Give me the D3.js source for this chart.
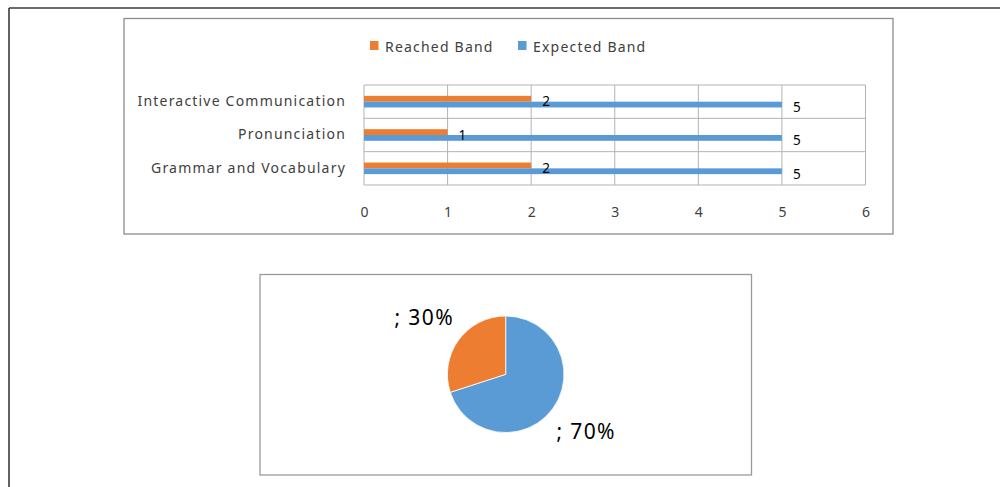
<!DOCTYPE html>
<html>
<head>
<meta charset="utf-8">
<script src="https://cdn.jsdelivr.net/npm/d3@7"></script>
<style>
  html, body { margin: 0; padding: 0; background: #fff; }
  svg { display: block; }
</style>
</head>
<body>
<svg id="chart" width="1000" height="487"></svg>
<script>
// Band scores per skill (top row first)
const categories = ["Interactive Communication", "Pronunciation", "Grammar and Vocabulary"];
const reachedBand = [2, 1, 2];
const expectedBand = [5, 5, 5];
const seriesNames = ["Reached Band", "Expected Band"];
const xTicks = [0, 1, 2, 3, 4, 5, 6];

// Share of the total (pie), drawn clockwise from 12 o'clock
const pieValues = [70, 30];
const pieLabels = ["; 70%", "; 30%"];

const ORANGE = "#ED7D31";
const BLUE = "#5B9BD5";
const TEXT = "#404040";
const FONT = "'Noto Sans', 'Open Sans', sans-serif";

const svg = d3.select("#chart");

// Page frame
svg.append("line").attr("x1", 9).attr("x2", 1000).attr("y1", 8).attr("y2", 8)
  .attr("stroke", "#3a3a3a").attr("stroke-width", 1.6);
svg.append("line").attr("x1", 9).attr("x2", 9).attr("y1", 8).attr("y2", 487)
  .attr("stroke", "#3a3a3a").attr("stroke-width", 1.6);

// ---------- Bar chart ----------
svg.append("rect").attr("x", 124).attr("y", 18.5).attr("width", 769).attr("height", 215.5)
  .attr("fill", "#fff").attr("stroke", "#8c8c8c").attr("stroke-width", 1.3);

const plot = { left: 364, right: 865.5, top: 85, bottom: 185 };

const x = d3.scaleLinear().domain([0, 6]).range([plot.left, plot.right]);
const y = d3.scaleBand().domain(categories).range([plot.top, plot.bottom]).padding(0);
const ySub = d3.scaleBand().domain(seriesNames).range([0, y.bandwidth()])
  .paddingInner(0).paddingOuter(1.87);

const grid = svg.append("g").attr("stroke", "#b3b3b3").attr("stroke-width", 1);
// vertical gridlines
grid.selectAll("line.v").data(xTicks).join("line")
  .attr("x1", d => x(d)).attr("x2", d => x(d))
  .attr("y1", plot.top).attr("y2", plot.bottom);
// row boundaries
const rowEdges = categories.map(c => y(c)).concat([plot.bottom]);
grid.selectAll("line.h").data(rowEdges).join("line")
  .attr("x1", plot.left).attr("x2", plot.right)
  .attr("y1", d => d).attr("y2", d => d);

// bars
const series = [
  { name: seriesNames[0], values: reachedBand, color: ORANGE },
  { name: seriesNames[1], values: expectedBand, color: BLUE }
];
const barLayer = svg.append("g");
const labelLayer = svg.append("g");
series.forEach(s => {
  barLayer.append("g").selectAll("rect").data(categories).join("rect")
    .attr("x", x(0))
    .attr("y", (c) => y(c) + ySub(s.name))
    .attr("width", (c, i) => x(s.values[i]) - x(0))
    .attr("height", ySub.bandwidth())
    .attr("fill", s.color);
  labelLayer.append("g").selectAll("text").data(categories).join("text")
    .attr("x", (c, i) => x(s.values[i]) + 11)
    .attr("y", (c) => y(c) + ySub(s.name) + ySub.bandwidth() / 2 + 2.5)
    .attr("dominant-baseline", "central")
    .attr("font-family", FONT).attr("font-size", 13.5).attr("fill", "#000")
    .text((c, i) => s.values[i]);
});

// category axis labels
const yAxis = d3.axisLeft(y).tickSize(0).tickPadding(18);
const yg = svg.append("g").attr("transform", `translate(${plot.left},0)`).call(yAxis);
yg.select(".domain").remove();
yg.selectAll("text").attr("font-family", FONT).attr("font-size", 14).attr("fill", TEXT)
  .attr("dy", "0.32em").attr("letter-spacing", 1.2);

// value axis labels
const xAxis = d3.axisBottom(x).tickValues(xTicks).tickSize(0).tickPadding(22).tickFormat(d3.format("d"));
const xg = svg.append("g").attr("transform", `translate(0,${plot.bottom})`).call(xAxis);
xg.select(".domain").remove();
xg.selectAll("text").attr("font-family", FONT).attr("font-size", 14).attr("fill", TEXT);

// legend
const legend = svg.append("g").attr("font-family", FONT).attr("font-size", 14).attr("fill", TEXT);
const legendX = [370, 518];
series.forEach((s, i) => {
  legend.append("rect").attr("x", legendX[i]).attr("y", 41).attr("width", 8.5).attr("height", 9)
    .attr("fill", s.color);
  legend.append("text").attr("x", legendX[i] + 15).attr("y", 46).attr("dominant-baseline", "central")
    .attr("letter-spacing", 1.2).attr("fill", TEXT).text(s.name);
});

// ---------- Pie chart ----------
svg.append("rect").attr("x", 260).attr("y", 274.5).attr("width", 491.5).attr("height", 200.5)
  .attr("fill", "#fff").attr("stroke", "#9a9a9a").attr("stroke-width", 1.3);

const cx = 505.7, cy = 374.3, r = 58.3;
const pie = d3.pie().sort(null)(pieValues);
const arc = d3.arc().innerRadius(0).outerRadius(r);
const labelArc = d3.arc().innerRadius(97).outerRadius(97);
const pg = svg.append("g").attr("transform", `translate(${cx},${cy})`);
pg.selectAll("path").data(pie).join("path")
  .attr("d", arc)
  .attr("fill", (d, i) => [BLUE, ORANGE][i])
  .attr("stroke", "#fff").attr("stroke-width", 0.8);
pg.selectAll("text").data(pie).join("text")
  .attr("transform", (d, i) => {
    const [lx, ly] = labelArc.centroid(d);
    return `translate(${lx + (i === 0 ? 2 : -3)},${ly})`;
  })
  .attr("text-anchor", "middle").attr("dominant-baseline", "central")
  .attr("font-family", FONT).attr("font-size", 21).attr("letter-spacing", 1.4).attr("fill", "#000")
  .text((d, i) => pieLabels[i]);
</script>
</body>
</html>
